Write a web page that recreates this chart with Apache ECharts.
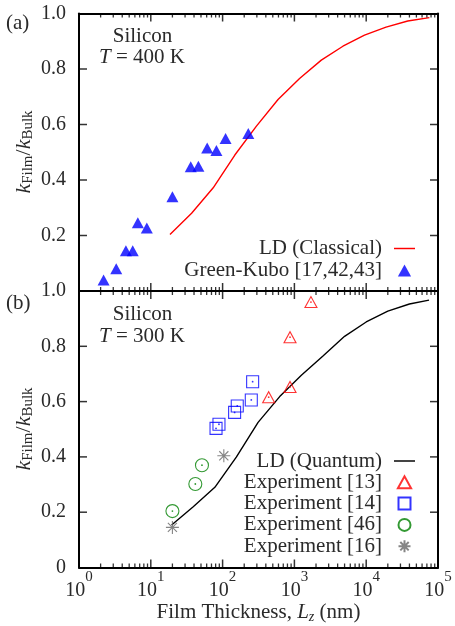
<!DOCTYPE html>
<html><head><meta charset="utf-8">
<script src="https://cdn.jsdelivr.net/npm/echarts@6/dist/echarts.min.js"></script>
<style>html,body{margin:0;padding:0;background:#fff}#c{width:455px;height:626px}</style>
</head><body><div id="c"></div>
<script>
// ---- data ----
const ldClassicalL = [18.5, 37, 74, 148, 296, 592, 1180, 2370, 4740, 9470, 18900, 37900, 75800];
const ldClassicalK = [0.204, 0.28, 0.372, 0.49, 0.594, 0.69, 0.766, 0.832, 0.882, 0.922, 0.951, 0.973, 0.985];
const greenKuboL = [2.2, 3.3, 4.5, 5.6, 6.6, 8.8, 20, 36, 46, 61, 82, 110, 228];
const greenKuboK = [0.04, 0.08, 0.145, 0.145, 0.246, 0.227, 0.34, 0.448, 0.45, 0.515, 0.506, 0.55, 0.568];
const ldQuantumL = [19.5, 39, 78, 156, 312, 624, 1250, 2500, 5000, 10000, 20000, 40000, 75000];
const ldQuantumK = [0.154, 0.22, 0.29, 0.40, 0.525, 0.618, 0.695, 0.765, 0.836, 0.888, 0.927, 0.953, 0.967];
const exp13L = [438, 869, 869, 1700];
const exp13K = [0.616, 0.653, 0.833, 0.96];
const exp14L = [81, 89, 147, 160, 251, 262];
const exp14K = [0.503, 0.518, 0.561, 0.584, 0.606, 0.672];
const exp46L = [20, 41.7, 51.6];
const exp46K = [0.204, 0.302, 0.37];
const exp16L = [20, 104];
const exp16K = [0.145, 0.404];
const xMajorTicks = [1, 10, 100, 1000, 10000, 100000];
const yMajorTicks = [0.2, 0.4, 0.6, 0.8];

const zip = (a, b) => a.map((v, i) => [v, b[i]]);
const minorVals = [];
for (let e = 0; e < 5; e++) for (let m = 2; m <= 9; m++) minorVals.push(m * Math.pow(10, e));

const SERIF = '"Liberation Serif", "DejaVu Serif", serif';
const TXT = '#2a2a2a';

function tickSeries(ai, data, size, offset) {
  return { type: 'scatter', xAxisIndex: ai, yAxisIndex: ai, data, symbol: 'rect', symbolSize: size,
    symbolOffset: offset, itemStyle: { color: '#000' }, silent: true, clip: false, z: 5 };
}
function ticksFor(ai) {
  return [
    tickSeries(ai, minorVals.map(v => [v, 0]), [1.3, 4], [0, -2]),
    tickSeries(ai, minorVals.map(v => [v, 1]), [1.3, 4], [0, 2]),
    tickSeries(ai, xMajorTicks.map(v => [v, 0]), [1.5, 8], [0, -4]),
    tickSeries(ai, xMajorTicks.map(v => [v, 1]), [1.5, 8], [0, 4]),
    tickSeries(ai, yMajorTicks.map(v => [1, v]), [8, 1.5], [4, 0]),
    tickSeries(ai, yMajorTicks.map(v => [100000, v]), [8, 1.5], [-4, 0])
  ];
}

function mkLine() { return { show: true, onZero: false, lineStyle: { color: '#000', width: 2 } }; }

function xAx(grid, pos, labels) {
  const o = {
    type: 'log', logBase: 10, min: 1, max: 100000, gridIndex: grid, position: pos,
    axisLine: mkLine(), axisTick: { show: false }, splitLine: { show: false },
    axisLabel: { show: false }
  };
  if (labels) {
    o.axisLabel = {
      show: true, margin: 2, hideOverlap: false,
      formatter: v => '{b|10}{s|' + Math.round(Math.log10(v)) + '}',
      rich: {
        b: { fontFamily: SERIF, fontSize: 20, color: TXT, lineHeight: 43 },
        s: { fontFamily: SERIF, fontSize: 15, color: TXT, lineHeight: 15, verticalAlign: 'top' }
      }
    };
    o.name = '{n|Film Thickness, }{i|L}{sub|z}{n| (nm)}';
    o.nameLocation = 'middle';
    o.nameGap = 31;
    o.nameTextStyle = {
      rich: {
        n: { fontFamily: SERIF, fontSize: 21, color: TXT, lineHeight: 24 },
        i: { fontFamily: SERIF, fontSize: 21, color: TXT, lineHeight: 24, fontStyle: 'italic' },
        sub: { fontFamily: SERIF, fontSize: 14, color: TXT, lineHeight: 14, fontStyle: 'italic', verticalAlign: 'bottom' }
      }
    };
  }
  return o;
}
function yAx(grid, pos, labels, showZero) {
  const o = {
    type: 'value', min: 0, max: 1, interval: 0.2, gridIndex: grid, position: pos,
    axisLine: mkLine(), axisTick: { show: false }, splitLine: { show: false },
    axisLabel: { show: false }
  };
  if (labels) {
    o.axisLabel = {
      show: true, margin: 13, fontFamily: SERIF, fontSize: 20, color: TXT,
      formatter: v => v === 0 ? (showZero ? '0' : '') : v.toFixed(1)
    };
  }
  return o;
}

const starPath = 'path://M10,0L10,20M0,10L20,10M3,3L17,17M3,17L17,3';
const triPath = 'path://M0,10L5.5,0L11,10Z';
const sqPath = 'path://M0,0L10,0L10,10L0,10Z';
const linePath = 'path://M0,0L20,0L20,1.4L0,1.4Z';

function dots(data, color, xi) {
  return { type: 'scatter', xAxisIndex: xi, yAxisIndex: xi, data, symbol: 'circle', symbolSize: 1.8,
    itemStyle: { color }, silent: true, z: 4 };
}

const yNameRich = {
  i: { fontFamily: SERIF, fontSize: 22, fill: TXT, fontStyle: 'italic', lineHeight: 24 },
  n: { fontFamily: SERIF, fontSize: 22, fill: TXT, lineHeight: 24 },
  sub: { fontFamily: SERIF, fontSize: 15, fill: TXT, lineHeight: 15, verticalAlign: 'bottom' }
};
const yNameText = '{i|k}{sub|Film}{n|/}{i|k}{sub|Bulk}';
const legendText = { fontFamily: SERIF, fontSize: 21, color: TXT, padding: [0, 7, 0, 0] };

const option = {
  animation: false,
  backgroundColor: '#fff',
  grid: [
    { left: 79, top: 13.5, width: 359, height: 277.5, outerBoundsMode: 'none', containLabel: false },
    { left: 79, top: 291, width: 359, height: 276.5, outerBoundsMode: 'none', containLabel: false }
  ],
  xAxis: [xAx(0, 'bottom', false), xAx(0, 'top', false), xAx(1, 'bottom', true), xAx(1, 'top', false)],
  yAxis: [yAx(0, 'left', true, false), yAx(0, 'right', false), yAx(1, 'left', true, true), yAx(1, 'right', false)],
  legend: [
    {
      data: [{ name: 'LD (Classical)', icon: linePath }, { name: 'Green-Kubo [17,42,43]', icon: triPath }],
      orient: 'vertical', align: 'right', right: 40, top: 238, padding: 0, itemGap: 1,
      itemWidth: 21, itemHeight: 12, symbolKeepAspect: true, textStyle: legendText
    },
    {
      data: [{ name: 'LD (Quantum)', icon: linePath }, { name: 'Experiment [13]', icon: triPath },
             { name: 'Experiment [14]', icon: sqPath }, { name: 'Experiment [46]', icon: 'circle' },
             { name: 'Experiment [16]', icon: starPath }],
      orient: 'vertical', align: 'right', right: 40, top: 450.5, padding: 0, itemGap: 0.3,
      itemWidth: 21, itemHeight: 12, symbolKeepAspect: true, textStyle: legendText
    }
  ],
  graphic: [
    { type: 'text', x: 6, y: 23, style: { text: '(a)', font: '21px ' + SERIF, fill: TXT, align: 'left', verticalAlign: 'middle' } },
    { type: 'text', x: 142.5, y: 36, style: { text: 'Silicon', font: '21px ' + SERIF, fill: TXT, align: 'center', verticalAlign: 'middle' } },
    { type: 'text', x: 142, y: 57, style: { text: '{i|T} = 400 K', font: '21px ' + SERIF, fill: TXT, align: 'center', verticalAlign: 'middle',
      rich: { i: { fontStyle: 'italic', fontFamily: SERIF, fontSize: 21, fill: TXT } } } },
    { type: 'text', x: 6, y: 303, style: { text: '(b)', font: '21px ' + SERIF, fill: TXT, align: 'left', verticalAlign: 'middle' } },
    { type: 'text', x: 142.5, y: 314, style: { text: 'Silicon', font: '21px ' + SERIF, fill: TXT, align: 'center', verticalAlign: 'middle' } },
    { type: 'text', x: 142, y: 336, style: { text: '{i|T} = 300 K', font: '21px ' + SERIF, fill: TXT, align: 'center', verticalAlign: 'middle',
      rich: { i: { fontStyle: 'italic', fontFamily: SERIF, fontSize: 21, fill: TXT } } } },
    { type: 'text', x: 24, y: 152, rotation: Math.PI / 2, style: { text: yNameText, rich: yNameRich, align: 'center', verticalAlign: 'middle' } },
    { type: 'text', x: 24, y: 429, rotation: Math.PI / 2, style: { text: yNameText, rich: yNameRich, align: 'center', verticalAlign: 'middle' } }
  ],
  series: ticksFor(0).concat(ticksFor(2)).concat([
    { name: 'LD (Classical)', type: 'line', xAxisIndex: 0, yAxisIndex: 0, data: zip(ldClassicalL, ldClassicalK),
      symbol: 'none', itemStyle: { color: '#ff0000' }, lineStyle: { color: '#ff0000', width: 1.4 }, z: 2 },
    { name: 'Green-Kubo [17,42,43]', type: 'scatter', xAxisIndex: 0, yAxisIndex: 0, data: zip(greenKuboL, greenKuboK),
      symbol: triPath, symbolSize: [12, 11], itemStyle: { color: '#0000ff' }, z: 3 },
    { name: 'LD (Quantum)', type: 'line', xAxisIndex: 2, yAxisIndex: 2, data: zip(ldQuantumL, ldQuantumK),
      symbol: 'none', itemStyle: { color: '#000' }, lineStyle: { color: '#000', width: 1.4 }, z: 2 },
    { name: 'Experiment [13]', type: 'scatter', xAxisIndex: 2, yAxisIndex: 2, data: zip(exp13L, exp13K),
      symbol: triPath, symbolSize: [12, 11], itemStyle: { color: 'rgba(255,255,255,0)', borderColor: '#ff0000', borderWidth: 1.1 }, z: 3 },
    { name: 'Experiment [14]', type: 'scatter', xAxisIndex: 2, yAxisIndex: 2, data: zip(exp14L, exp14K),
      symbol: sqPath, symbolSize: 12, itemStyle: { color: 'rgba(255,255,255,0)', borderColor: '#0000ff', borderWidth: 1.1 }, z: 3 },
    { name: 'Experiment [46]', type: 'scatter', xAxisIndex: 2, yAxisIndex: 2, data: zip(exp46L, exp46K),
      symbol: 'circle', symbolSize: 13, itemStyle: { color: 'rgba(255,255,255,0)', borderColor: '#007f00', borderWidth: 1.1 }, z: 3 },
    { name: 'Experiment [16]', type: 'scatter', xAxisIndex: 2, yAxisIndex: 2, data: zip(exp16L, exp16K),
      symbol: starPath, symbolSize: 13, itemStyle: { color: 'rgba(0,0,0,0)', borderColor: '#666', borderWidth: 1.1 }, z: 3 },
    dots(zip(exp13L, exp13K), '#ff0000', 2),
    dots(zip(exp14L, exp14K), '#0000ff', 2),
    dots(zip(exp46L, exp46K), '#007f00', 2)
  ])
};
const chart = echarts.init(document.getElementById('c'), null, { renderer: 'canvas' });
chart.setOption(option);
</script>
</body></html>
